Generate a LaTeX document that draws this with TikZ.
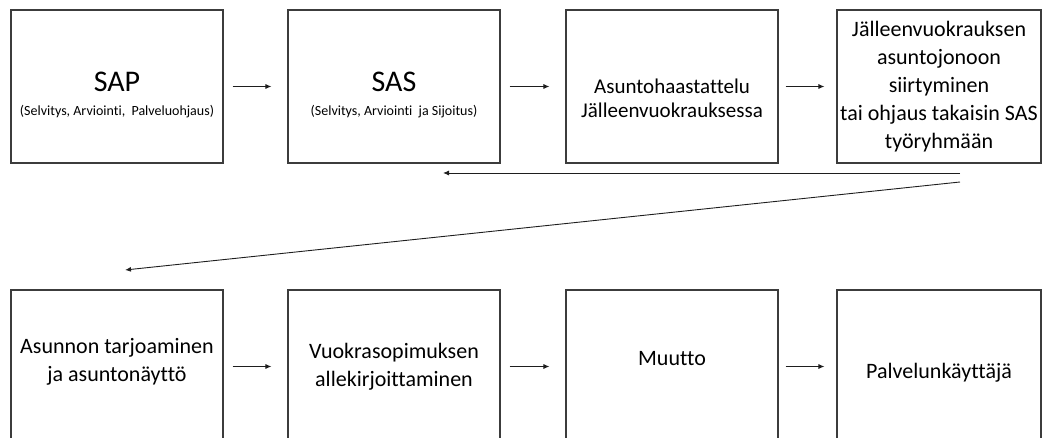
\documentclass[tikz,border=0pt]{standalone}
\usepackage{fontspec}
\setmainfont{Carlito}[Ligatures=NoCommon]
\usetikzlibrary{calc, positioning, arrows.meta}

% struts that move a box text down (first line) or up (last line)
\newcommand{\topstrut}[1]{\rule{0pt}{#1}}
\newcommand{\botstrut}[1]{\rule[-#1]{0pt}{#1}}

\begin{document}
\begin{tikzpicture}[x=1pt, y=-1pt]
    \tikzset{
      stage/.style={
        rectangle, draw, line width=1.1pt,
        draw={rgb,255:red,60;green,60;blue,60},
        minimum width=212pt, minimum height=153pt,
        inner sep=0pt, align=center,
        font=\fontsize{22}{28}\selectfont,
      },
      link/.style={
        -{Latex[length=6pt,width=5pt]}, draw, line width=0.9pt,
        draw={rgb,255:red,30;green,30;blue,30},
        shorten <=9pt, shorten >=16pt,
      },
    }
    \useasboundingbox (0,0) rectangle (1043,438);
    \clip (0,0) rectangle (1043,438);

    % top row
    \node[stage] (sap) at (117,86.5) {{\fontsize{30}{30}\selectfont \topstrut{36pt}SAP}\\[-4pt]
      {\fontsize{14}{17}\selectfont (Selvitys, Arviointi,~ Palveluohjaus)}};

    \node[stage] (sas) at ($(sap) + (277,0)$) {{\fontsize{30}{30}\selectfont \topstrut{36pt}SAS}\\[-4pt]
      {\fontsize{14}{17}\selectfont (Selvitys, Arviointi~ ja Sijoitus)}};
    \draw[link] (sap) -- (sas);

    \node[stage, font=\fontsize{21}{24}\selectfont] (interview) at ($(sas) + (278,0)$)
      {\topstrut{39pt}Asuntohaastattelu\\J\"alleenvuokrauksessa};
    \draw[link] (sas) -- (interview);

    \node[stage, minimum width=204pt] (queue) at ($(interview) + (267,0)$)
      {J\"alleenvuokrauksen\\asuntojonoon\\siirtyminen\\tai ohjaus takaisin SAS\\ty\"oryhm\"a\"an};
    \draw[link, shorten <=7pt, shorten >=12pt] (interview) -- (queue);

    % way back and way down
    \coordinate (backstart) at (960,173);
    \coordinate (backend) at (443,173);
    \draw[link, shorten <=0pt, shorten >=0pt] (backstart) -- (backend);

    \coordinate (downstart) at (960,182);
    \coordinate (downend) at (125,270);
    \draw[link, shorten <=0pt, shorten >=0pt] (downstart) -- (downend);

    % bottom row
    \node[stage] (offer) at (117,366.5) {Asunnon tarjoaminen\\ja asunton\"aytt\"o\botstrut{14pt}};

    \node[stage] (lease) at ($(offer) + (277,0)$) {Vuokrasopimuksen\\allekirjoittaminen};
    \draw[link] (offer) -- (lease);

    \node[stage] (move) at ($(lease) + (278,0)$) {Muutto\botstrut{16pt}};
    \draw[link] (lease) -- (move);

    \node[stage, minimum width=204pt] (client) at ($(move) + (267,0)$) {\topstrut{27pt}Palvelunk\"aytt\"aj\"a};
    \draw[link, shorten <=7pt, shorten >=12pt] (move) -- (client);
\end{tikzpicture}
\end{document}
